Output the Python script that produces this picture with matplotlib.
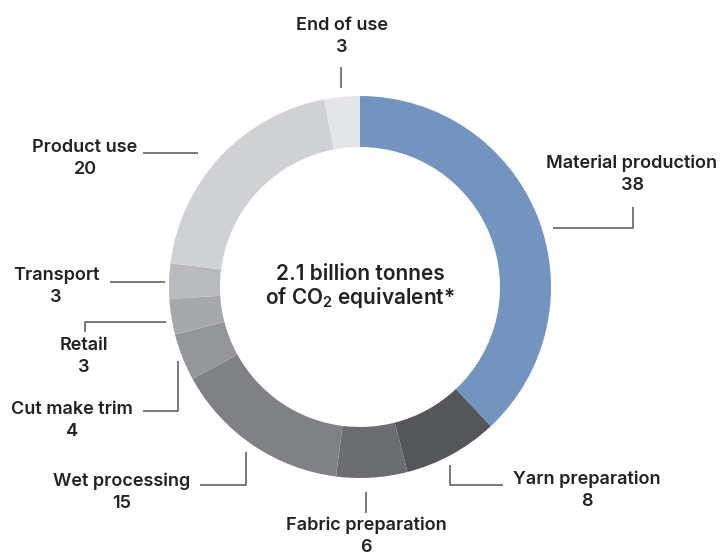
import matplotlib
matplotlib.use("Agg")
import matplotlib.pyplot as plt

# Emission shares by stage of the apparel value chain (percent)
stages = ["Material production", "Yarn preparation", "Fabric preparation",
          "Wet processing", "Cut make trim", "Retail", "Transport",
          "Product use", "End of use"]
shares = [38, 8, 6, 15, 4, 3, 3, 20, 3]
colors = ["#7294BF", "#55565A", "#6C6D71", "#808185", "#95969A",
          "#A7A8AB", "#B9BABD", "#D0D1D4", "#E4E5E7"]

plt.rcParams["font.family"] = ["Inter", "DejaVu Sans"]
plt.rcParams["mathtext.fontset"] = "custom"
plt.rcParams["mathtext.rm"] = "Inter"

W, H = 722, 552
fig = plt.figure(figsize=(W / 100, H / 100), dpi=100)
ax = fig.add_axes([0, 0, 1, 1])
ax.set_xlim(0, W)
ax.set_ylim(0, H)
ax.set_aspect("equal")
ax.axis("off")


def py(y):
    return H - y


cx, cy, R = 360, 287, 191
ax.pie(shares, colors=colors, startangle=90, counterclock=False,
       radius=R, center=(cx, py(cy)),
       wedgeprops=dict(width=51, linewidth=0))
ax.set_xlim(0, W)
ax.set_ylim(0, H)

TXT = "#222222"
LINE = "#555555"

# label text centre (x, y of name line) and leader polyline
labels = {
    "End of use": ((342, 25), [(341, 67), (341, 88)]),
    "Material production": ((632, 163), [(633, 207), (633, 228), (553, 228)]),
    "Yarn preparation": ((587, 479), [(450, 465), (450, 485), (503, 485)]),
    "Fabric preparation": ((366, 525), [(366, 492), (366, 513)]),
    "Wet processing": ((122, 481), [(200, 485), (246, 485), (246, 452)]),
    "Cut make trim": ((72, 409), [(143, 411), (178, 411), (178, 361)]),
    "Retail": ((84, 346), [(85, 332), (85, 322), (166, 322)]),
    "Transport": ((56, 276), [(110, 282), (165, 282)]),
    "Product use": ((85, 147), [(143, 153), (198, 153)]),
}

for name, val in zip(stages, shares):
    (tx, ty), pts = labels[name]
    ax.text(tx, py(ty), name, ha="center", va="center", fontsize=13,
            fontweight="semibold", color=TXT)
    ax.text(tx, py(ty + 22), str(val), ha="center", va="center", fontsize=13,
            fontweight="semibold", color=TXT)
    xs = [p[0] for p in pts]
    ys = [py(p[1]) for p in pts]
    ax.plot(xs, ys, color=LINE, linewidth=1.1, solid_capstyle="butt")

ax.text(cx, py(274), "2.1 billion tonnes", ha="center", va="center",
        fontsize=15, fontweight="semibold", color=TXT)
ax.text(cx, py(298), r"of CO$_\mathregular{2}$ equivalent*", ha="center",
        va="center", fontsize=15, fontweight="semibold", color=TXT)

fig.savefig("out.png", dpi=100)
